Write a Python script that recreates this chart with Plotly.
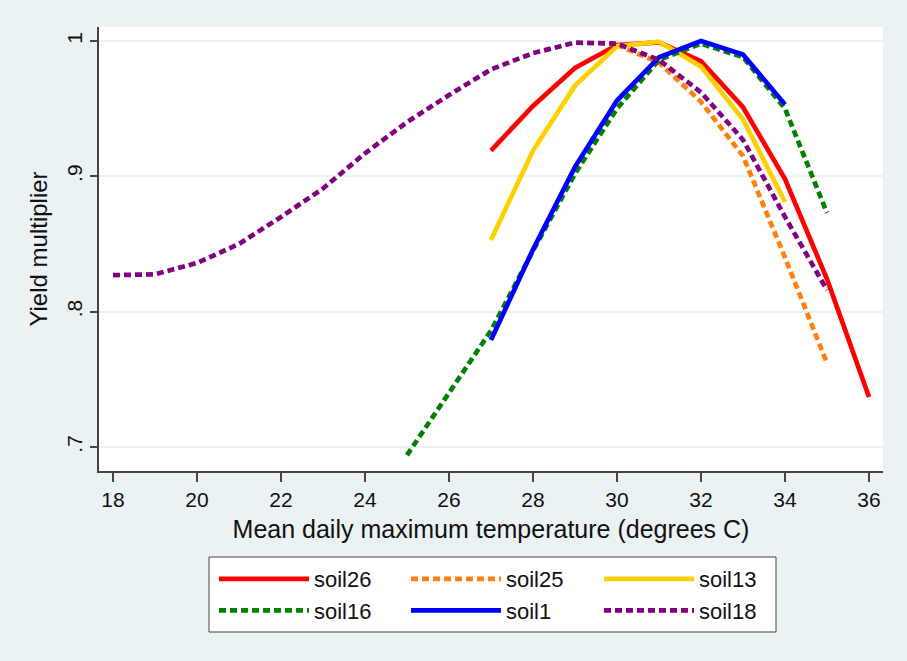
import plotly.graph_objects as go

# ---- data ----
x_soil26 = [27, 28, 29, 30, 31, 32, 33, 34, 35, 36]
y_soil26 = [0.919, 0.952, 0.980, 0.997, 0.999, 0.985, 0.951, 0.898, 0.824, 0.737]

x_soil25 = [30, 31, 32, 33, 34, 35]
y_soil25 = [0.997, 0.984, 0.955, 0.915, 0.840, 0.762]

x_soil13 = [27, 28, 29, 30, 31, 32, 33, 34]
y_soil13 = [0.853, 0.919, 0.967, 0.996, 0.9995, 0.981, 0.942, 0.881]

x_soil16 = [25, 26, 27, 28, 29, 30, 31, 32, 33, 34, 35]
y_soil16 = [0.694, 0.740, 0.786, 0.845, 0.902, 0.950, 0.986, 0.998, 0.988, 0.950, 0.873]

x_soil1 = [27, 28, 29, 30, 31, 32, 33, 34]
y_soil1 = [0.779, 0.846, 0.907, 0.956, 0.988, 1.000, 0.990, 0.953]

x_soil18 = [18, 19, 20, 21, 22, 23, 24, 25, 26, 27, 28, 29, 30, 31, 32, 33, 34, 35]
y_soil18 = [0.827, 0.8276, 0.836, 0.850, 0.870, 0.891, 0.917, 0.940, 0.960, 0.979,
            0.991, 0.9988, 0.998, 0.986, 0.962, 0.927, 0.870, 0.816]

x_ticks = [18, 20, 22, 24, 26, 28, 30, 32, 34, 36]
y_ticks = [0.7, 0.8, 0.9, 1.0]
y_ticklabels = [".7", ".8", ".9", "1"]

# name, x, y, colour, dash, legend column
series = [
    ("soil26", x_soil26, y_soil26, "#FF0000", "solid", "legend"),
    ("soil25", x_soil25, y_soil25, "#FF8010", "7px,4px", "legend2"),
    ("soil13", x_soil13, y_soil13, "#FFD000", "solid", "legend3"),
    ("soil16", x_soil16, y_soil16, "#008000", "7px,4px", "legend"),
    ("soil1", x_soil1, y_soil1, "#0000FF", "solid", "legend2"),
    ("soil18", x_soil18, y_soil18, "#800080", "7px,4px", "legend3"),
]

BG = "#EAF2F3"
FONT = "Liberation Sans, Arial, sans-serif"
W, H = 907, 661
ML, MR, MT, MB = 99, 24, 27, 190
PW, PH = W - ML - MR, H - MT - MB


def px_x(p):
    return (p - ML) / PW


def px_y(p):
    return (H - MB - p) / PH


fig = go.Figure()
for name, xs, ys, color, dash, leg in series:
    fig.add_trace(go.Scatter(
        x=xs, y=ys, name=name, mode="lines",
        line=dict(color=color, width=4.7, dash=dash),
        legend=leg,
    ))

leg_common = dict(
    orientation="v", xanchor="left", yanchor="top",
    bgcolor="rgba(0,0,0,0)", borderwidth=0,
    font=dict(size=22, family=FONT, color="#111111"),
    itemwidth=90, traceorder="normal", tracegroupgap=0,
)

fig.update_layout(
    width=W, height=H,
    paper_bgcolor=BG, plot_bgcolor="white",
    margin=dict(l=ML, r=MR, t=MT, b=MB),
    font=dict(family=FONT, color="#111111"),
    showlegend=True,
    legend=dict(x=px_x(214), y=px_y(558), **leg_common),
    legend2=dict(x=px_x(406), y=px_y(558), **leg_common),
    legend3=dict(x=px_x(599), y=px_y(558), **leg_common),
    shapes=[dict(
        type="rect", xref="paper", yref="paper",
        x0=px_x(209), x1=px_x(776), y0=px_y(632), y1=px_y(557),
        fillcolor="white", line=dict(color="#444444", width=1), layer="below",
    )],
)

fig.update_xaxes(
    range=[17.667, 36.333],
    tickvals=x_ticks, ticktext=[str(v) for v in x_ticks],
    ticks="outside", ticklen=9, tickwidth=1.5, tickcolor="#444444",
    tickfont=dict(size=21, family=FONT, color="#111111"),
    showline=True, linecolor="#444444", linewidth=1.5,
    showgrid=False, zeroline=False,
    title=dict(text="Mean daily maximum temperature (degrees C)",
               font=dict(size=25, family=FONT, color="#111111"), standoff=11),
)

fig.update_yaxes(
    range=[0.6823, 1.0103],
    tickvals=y_ticks, ticktext=y_ticklabels, tickangle=-90,
    ticks="outside", ticklen=7, tickwidth=1.5, tickcolor="#444444",
    tickfont=dict(size=21, family=FONT, color="#111111"),
    showline=True, linecolor="#444444", linewidth=1.5,
    showgrid=True, gridcolor=BG, gridwidth=1.5, zeroline=False,
    title=dict(text="Yield multiplier",
               font=dict(size=24, family=FONT, color="#111111"), standoff=8),
)

fig.write_html("out.html", config={"displayModeBar": False},
               post_script="document.body.style.margin='0px';")
